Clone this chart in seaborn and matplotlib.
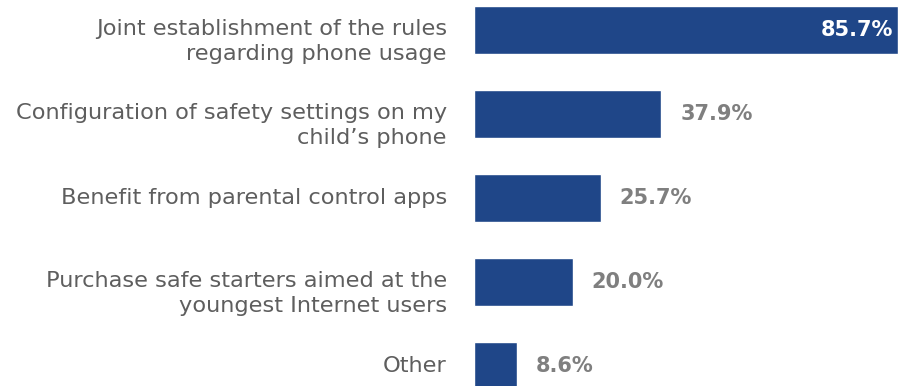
import matplotlib
matplotlib.use("Agg")
import matplotlib.pyplot as plt
import seaborn as sns
import pandas as pd

categories = [
    "Joint establishment of the rules\nregarding phone usage",
    "Configuration of safety settings on my\nchild\u2019s phone",
    "Benefit from parental control apps",
    "Purchase safe starters aimed at the\nyoungest Internet users",
    "Other",
]
values = [85.7, 37.9, 25.7, 20.0, 8.6]
value_labels = ["85.7%", "37.9%", "25.7%", "20.0%", "8.6%"]

BAR_COLOR = "#1F4688"
LABEL_COLOR = "#5E5E5E"
VALUE_COLOR = "#7F7F7F"

sns.set_style("white")
plt.rcParams["font.family"] = ["DejaVu Sans"]

df = pd.DataFrame({"category": categories, "value": values})

fig = plt.figure(figsize=(8.99, 3.86), dpi=100)
ax = fig.add_axes([474 / 899, 0, 425 / 899, 1])

sns.barplot(data=df, x="value", y="category", orient="h", color=BAR_COLOR,
            saturation=1, width=0.57, ax=ax)

ax.set_xlim(0, 86.0)
ax.set_ylim(4.24, -0.36)
ax.set_xlabel("")
ax.set_ylabel("")
ax.set_xticks([])
ax.set_yticklabels([])
ax.tick_params(axis="y", length=0)
for s in ax.spines.values():
    s.set_visible(False)

# category labels: first line sits roughly level with the bar centre
for i, cat in enumerate(categories):
    n_lines = cat.count("\n") + 1
    dy = -8.3 * (n_lines - 1)
    ax.annotate(cat, xy=(0, i), xycoords=("data", "data"),
                xytext=(-19.5, dy), textcoords="offset points",
                ha="right", va="center", fontsize=16.2, color=LABEL_COLOR,
                linespacing=1.34, annotation_clip=False)

for i, (v, lab) in enumerate(zip(values, value_labels)):
    if v > 60:
        ax.text(v - 0.8, i, lab, ha="right", va="center", color="white",
                fontsize=15, fontweight="bold")
    else:
        ax.text(v + 3.8, i, lab, ha="left", va="center", color=VALUE_COLOR,
                fontsize=15, fontweight="bold")

fig.savefig("out.png", dpi=100)
